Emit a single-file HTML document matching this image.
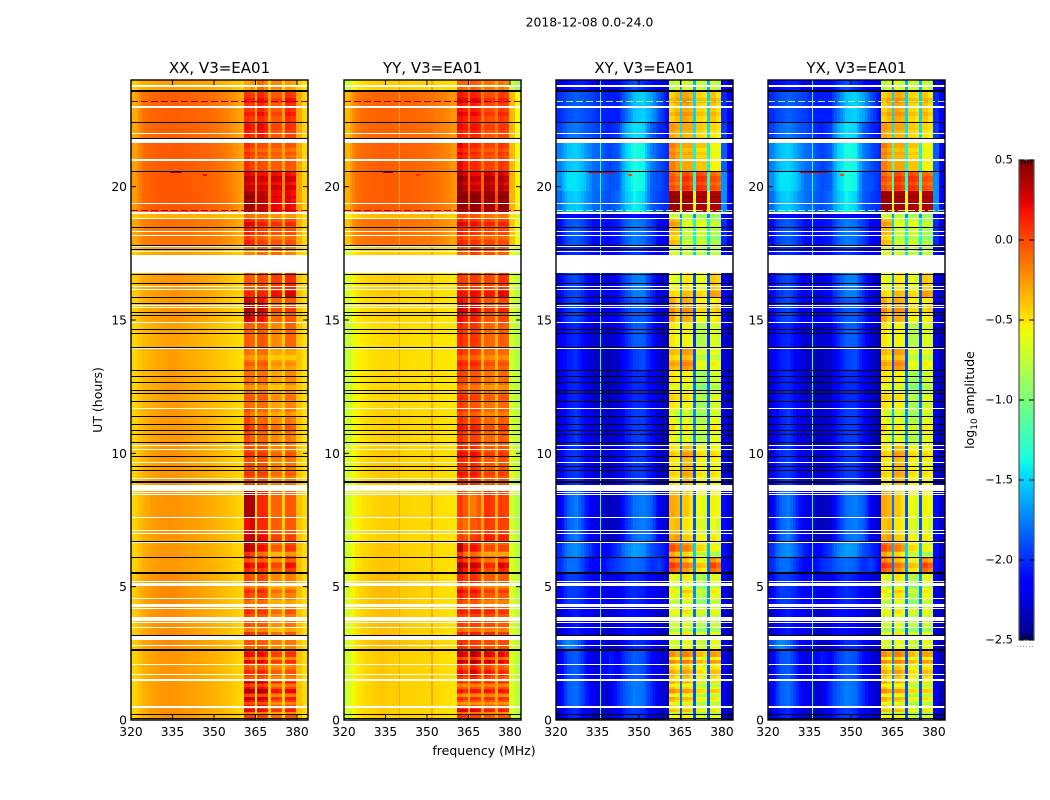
<!DOCTYPE html>
<html>
<head>
<meta charset="utf-8">
<title>2018-12-08 0.0-24.0</title>
<style>
html,body{margin:0;padding:0;background:#fff;width:1050px;height:800px;overflow:hidden}
svg{display:block}
text{font-family:"DejaVu Sans","Liberation Sans",sans-serif;fill:#000}
</style>
</head>
<body>
<svg id="chart" width="1050" height="800" viewBox="0 0 1050 800" xmlns="http://www.w3.org/2000/svg">
<text x="589.5" y="26.5" text-anchor="middle" font-size="12.4">2018-12-08 0.0-24.0</text>
<text x="484" y="755" text-anchor="middle" font-size="12.5">frequency (MHz)</text>
<text transform="translate(102,400) rotate(-90)" text-anchor="middle" font-size="12.5">UT (hours)</text>
<text transform="translate(974,400) rotate(-90)" text-anchor="middle" font-size="12.5">log<tspan dy="3" font-size="9">10</tspan><tspan dy="-3"> amplitude</tspan></text>
</svg>
<script>
// ---- axis tick labels ----
const freqTicks = [320,335,350,365,380];
const hourTicks = [0,5,10,15,20];
const colorTicks = [0.5,0,-0.5,-1,-1.5,-2,-2.5];
const colorTickLabels = ['0.5','0.0','\u22120.5','\u22121.0','\u22121.5','\u22122.0','\u22122.5'];
const panelTitles = ['XX, V3=EA01','YY, V3=EA01','XY, V3=EA01','YX, V3=EA01'];

// ---- heatmap bins (MHz, UT hours) ----
const freqEdges = [320,323,326,329,332,335,338,341,344,347,350,353,356,359,361,363,364.7,365.7,368,369.7,370.7,373,374.7,375.7,378,379.7,382,384];
const hourEdges = [0,.52,1.5,2.62,3,4.31,5.51,6.11,6.67,7.61,8.59,8.81,10.31,11.7,13.12,13.95,14.92,15.86,16.76,17.44,17.77,18.79,19.01,19.84,20.59,21.64,22.42,23.59,24];

// ---- log10 amplitude, one row per time bin (bottom to top) ----
const xxRows = [
[-.44,-.33,-.27,-.24,-.22,-.24,-.26,-.27,-.29,-.31,-.34,-.37,-.41,-.46,.05,.03,-.5,.03,0,-.42,-.1,-.12,-.42,-.02,-.03,-.38,-.47],
[-.44,-.34,-.29,-.26,-.24,-.25,-.27,-.28,-.3,-.32,-.35,-.38,-.42,-.46,.2,.15,-.5,.2,.15,-.42,-.02,-.05,-.42,.02,.03,-.38,-.47],
[-.44,-.34,-.29,-.26,-.24,-.25,-.27,-.28,-.3,-.32,-.35,-.38,-.42,-.46,.12,.08,-.5,.12,.06,-.42,-.05,-.08,-.42,-.02,0,-.38,-.47],
[-.42,-.3,-.26,-.23,-.2,-.22,-.25,-.26,-.28,-.3,-.33,-.36,-.4,-.45,-.02,-.05,-.5,-.05,-.08,-.42,-.18,-.2,-.42,-.15,-.15,-.38,-.47],
[-.42,-.31,-.26,-.23,-.21,-.22,-.25,-.27,-.29,-.31,-.34,-.37,-.41,-.46,0,-.05,-.5,-.05,-.05,-.42,-.22,-.25,-.42,-.12,-.15,-.38,-.47],
[-.42,-.3,-.25,-.22,-.2,-.21,-.24,-.26,-.28,-.31,-.34,-.37,-.41,-.46,.02,-.04,-.5,.03,-.03,-.42,-.2,-.22,-.42,-.15,-.18,-.38,-.47],
[-.44,-.33,-.28,-.26,-.25,-.26,-.28,-.29,-.31,-.33,-.36,-.39,-.42,-.46,.12,.05,-.5,.08,.03,-.42,-.1,-.12,-.42,.08,.05,-.38,-.47],
[-.44,-.33,-.28,-.25,-.24,-.25,-.27,-.28,-.3,-.32,-.35,-.38,-.42,-.46,.3,.2,-.5,.1,.05,-.42,-.15,-.15,-.42,-.02,-.05,-.38,-.47],
[-.44,-.33,-.28,-.25,-.23,-.24,-.26,-.27,-.29,-.31,-.34,-.37,-.41,-.46,.2,.25,-.5,.12,.1,-.42,-.05,-.08,-.42,-.05,-.05,-.38,-.47],
[-.44,-.33,-.27,-.25,-.23,-.24,-.26,-.27,-.29,-.31,-.34,-.37,-.41,-.46,.4,.38,-.5,.12,.1,-.42,-.08,-.08,-.42,-.05,-.05,-.38,-.47],
[-.44,-.33,-.28,-.26,-.25,-.25,-.27,-.28,-.3,-.32,-.35,-.38,-.42,-.46,.05,.05,-.5,.05,0,-.42,-.1,-.1,-.42,-.1,-.1,-.38,-.47],
[-.44,-.34,-.28,-.25,-.24,-.24,-.26,-.28,-.3,-.32,-.36,-.39,-.43,-.47,0,-.02,-.5,-.03,-.05,-.42,-.18,-.2,-.42,-.12,-.15,-.4,-.48],
[-.44,-.35,-.3,-.27,-.25,-.25,-.27,-.29,-.31,-.33,-.37,-.4,-.44,-.47,.02,-.08,-.5,-.1,-.08,-.42,-.2,-.25,-.42,-.12,-.18,-.4,-.48],
[-.45,-.36,-.32,-.29,-.26,-.26,-.29,-.31,-.33,-.35,-.38,-.41,-.44,-.47,-.1,-.12,-.5,-.12,-.12,-.42,-.28,-.3,-.42,-.18,-.2,-.4,-.48],
[-.45,-.37,-.33,-.3,-.27,-.27,-.3,-.32,-.34,-.36,-.39,-.42,-.45,-.48,-.12,-.15,-.5,-.12,-.1,-.45,-.3,-.3,-.42,-.28,-.3,-.4,-.48],
[-.45,-.37,-.33,-.3,-.28,-.28,-.3,-.32,-.34,-.36,-.39,-.42,-.45,-.48,-.05,-.08,-.5,-.03,-.08,-.42,-.2,-.22,-.42,-.08,-.1,-.4,-.48],
[-.43,-.33,-.29,-.27,-.25,-.24,-.26,-.28,-.3,-.32,-.35,-.39,-.42,-.46,.3,.22,-.5,.2,.12,-.42,-.1,-.1,-.42,-.05,-.05,-.38,-.47],
[-.42,-.31,-.28,-.26,-.25,-.23,-.25,-.27,-.28,-.3,-.33,-.37,-.41,-.45,-.02,-.05,-.5,0,-.03,-.42,.05,.03,-.42,.12,.1,-.38,-.47],
null,
[-.42,-.33,-.3,-.28,-.27,-.27,-.27,-.28,-.28,-.3,-.33,-.35,-.38,-.42,-.2,-.2,-.45,-.1,-.12,-.42,-.1,-.1,-.42,-.15,-.2,-.42,-.48],
[-.3,-.18,-.15,-.14,-.13,-.13,-.13,-.14,-.15,-.16,-.18,-.22,-.27,-.34,.15,.1,-.3,.05,0,-.28,-.02,-.05,-.28,0,-.02,-.32,-.46],
[-.42,-.36,-.34,-.33,-.32,-.32,-.32,-.33,-.33,-.34,-.35,-.37,-.39,-.42,-.1,-.12,-.42,-.15,-.15,-.42,-.25,-.25,-.42,-.25,-.25,-.4,-.47],
[-.26,-.1,-.07,-.05,-.04,-.04,-.04,-.05,-.06,-.08,-.1,-.14,-.2,-.28,.42,.4,-.2,.35,.3,-.22,.22,.2,-.22,.22,.18,-.28,-.44],
[-.26,-.1,-.07,-.05,-.04,-.04,-.05,-.06,-.07,-.08,-.11,-.15,-.21,-.28,.25,.2,-.25,.2,.18,-.2,.2,.18,-.2,.2,.15,-.28,-.44],
[-.28,-.12,-.08,-.06,-.06,-.05,-.06,-.07,-.08,-.09,-.12,-.16,-.22,-.3,.1,.03,-.3,0,-.03,-.28,-.05,-.05,-.28,-.03,-.05,-.3,-.45],
[-.3,-.14,-.1,-.08,-.07,-.07,-.08,-.08,-.1,-.11,-.14,-.18,-.24,-.32,.15,.1,-.28,.18,.1,-.28,-.03,-.05,-.28,.05,.02,-.3,-.45],
[-.32,-.14,-.1,-.08,-.07,-.07,-.08,-.08,-.1,-.11,-.14,-.18,-.24,-.32,.08,.05,-.3,.12,.02,-.28,-.05,-.05,-.28,.1,.05,-.3,-.45],
[-.42,-.33,-.3,-.28,-.27,-.27,-.27,-.28,-.28,-.3,-.33,-.35,-.38,-.42,-.3,-.25,-.45,-.1,-.2,-.45,-.2,-.2,-.45,-.25,-.3,-.42,-.48]
];

const yyRows = [
[-.7,-.52,-.46,-.43,-.41,-.42,-.43,-.44,-.44,-.45,-.46,-.46,-.48,-.5,.1,.05,-.3,.05,.03,-.28,-.02,-.05,-.3,-.02,-.05,-.65,-.8],
[-.7,-.52,-.46,-.43,-.41,-.42,-.43,-.44,-.44,-.45,-.46,-.46,-.48,-.5,-.02,-.08,-.3,-.02,-.05,-.28,-.02,-.05,-.3,-.02,-.05,-.65,-.8],
[-.7,-.52,-.46,-.42,-.4,-.42,-.43,-.44,-.44,-.45,-.46,-.46,-.48,-.5,.22,.12,-.28,.28,.15,-.28,.18,.1,-.3,.12,.05,-.65,-.8],
[-.68,-.48,-.42,-.38,-.36,-.37,-.39,-.41,-.42,-.43,-.44,-.45,-.47,-.5,.1,.05,-.3,.05,.02,-.3,0,-.02,-.3,0,0,-.65,-.8],
[-.68,-.49,-.43,-.39,-.37,-.38,-.4,-.42,-.43,-.44,-.45,-.46,-.48,-.5,.05,0,-.3,.03,.02,-.3,0,0,-.3,-.05,-.05,-.65,-.8],
[-.68,-.48,-.42,-.38,-.36,-.37,-.39,-.41,-.42,-.44,-.45,-.46,-.48,-.5,.15,.05,-.3,.1,.03,-.3,-.05,-.05,-.3,-.05,-.05,-.65,-.8],
[-.7,-.5,-.45,-.42,-.4,-.4,-.42,-.43,-.44,-.45,-.46,-.47,-.48,-.5,.3,.15,-.3,.2,.1,-.3,0,-.02,-.3,.15,.08,-.65,-.8],
[-.7,-.5,-.45,-.42,-.4,-.4,-.42,-.43,-.44,-.45,-.46,-.47,-.48,-.5,.28,.05,-.3,.1,.02,-.3,-.1,-.08,-.3,-.08,-.08,-.65,-.8],
[-.72,-.54,-.48,-.45,-.43,-.43,-.44,-.45,-.46,-.46,-.47,-.48,-.49,-.51,-.05,-.12,-.38,-.05,0,-.28,.05,.03,-.3,.03,.02,-.68,-.82],
[-.72,-.54,-.48,-.45,-.43,-.43,-.44,-.45,-.46,-.46,-.47,-.48,-.49,-.51,.05,-.05,-.3,-.15,-.05,-.3,.08,.05,-.3,.05,.02,-.68,-.82],
[-.72,-.54,-.48,-.45,-.43,-.43,-.44,-.45,-.46,-.46,-.47,-.48,-.49,-.51,.1,.05,-.3,.05,0,-.3,-.05,-.05,-.3,-.05,-.05,-.68,-.82],
[-.7,-.52,-.46,-.42,-.41,-.41,-.42,-.44,-.45,-.45,-.46,-.47,-.48,-.5,.12,.08,-.3,.1,.03,-.3,-.05,-.05,-.3,-.02,-.05,-.65,-.8],
[-.72,-.54,-.48,-.45,-.43,-.43,-.44,-.45,-.46,-.46,-.47,-.48,-.49,-.5,.1,.03,-.32,.05,0,-.32,-.1,-.1,-.32,-.05,-.08,-.68,-.8],
[-.74,-.55,-.5,-.47,-.45,-.45,-.46,-.47,-.47,-.48,-.48,-.49,-.5,-.52,.05,0,-.35,-.02,-.05,-.35,-.12,-.15,-.35,-.1,-.1,-.7,-.82],
[-.74,-.56,-.51,-.48,-.46,-.46,-.47,-.47,-.48,-.48,-.49,-.5,-.5,-.52,.08,.03,-.35,.05,0,-.35,-.08,-.1,-.35,-.08,-.1,-.7,-.82],
[-.74,-.56,-.51,-.48,-.46,-.46,-.47,-.47,-.48,-.48,-.49,-.5,-.5,-.52,.12,.05,-.33,.08,.02,-.33,-.08,-.1,-.33,-.05,-.08,-.7,-.82],
[-.7,-.52,-.47,-.45,-.43,-.43,-.44,-.45,-.46,-.46,-.47,-.48,-.49,-.51,.22,.15,-.3,.15,.08,-.3,-.02,-.03,-.3,.02,0,-.66,-.8],
[-.68,-.5,-.45,-.43,-.42,-.41,-.43,-.44,-.45,-.46,-.47,-.48,-.49,-.51,.05,.02,-.3,.06,.02,-.3,.03,0,-.3,.08,.05,-.66,-.8],
null,
[-.68,-.48,-.44,-.42,-.4,-.4,-.41,-.42,-.42,-.43,-.44,-.45,-.46,-.48,-.05,-.08,-.3,.05,0,-.3,-.02,-.03,-.3,-.05,-.08,-.6,-.8],
[-.4,-.18,-.14,-.13,-.12,-.12,-.13,-.13,-.14,-.15,-.17,-.2,-.24,-.3,.15,.08,-.2,.08,.03,-.2,.02,0,-.2,.02,0,-.4,-.62],
[-.55,-.42,-.38,-.36,-.35,-.35,-.35,-.36,-.36,-.37,-.38,-.4,-.42,-.45,-.02,-.05,-.3,-.02,-.05,-.3,-.12,-.12,-.3,-.12,-.15,-.5,-.7],
[-.32,-.12,-.08,-.07,-.06,-.06,-.06,-.07,-.08,-.09,-.11,-.14,-.18,-.24,.45,.45,-.02,.46,.44,-.02,.42,.42,-.02,.45,.42,-.34,-.55],
[-.32,-.12,-.08,-.07,-.06,-.06,-.06,-.07,-.08,-.09,-.11,-.14,-.18,-.24,.38,.25,-.1,.22,.2,-.1,.3,.22,-.1,.3,.2,-.34,-.55],
[-.34,-.14,-.1,-.08,-.07,-.07,-.08,-.08,-.09,-.1,-.12,-.15,-.19,-.26,.22,.15,-.15,.12,.08,-.15,.03,.02,-.15,.08,.03,-.36,-.58],
[-.36,-.16,-.11,-.09,-.08,-.08,-.09,-.09,-.1,-.11,-.13,-.16,-.2,-.26,.15,.1,-.15,.13,.1,-.15,-.02,-.03,-.15,.02,0,-.36,-.58],
[-.36,-.16,-.11,-.09,-.08,-.08,-.09,-.09,-.1,-.11,-.13,-.16,-.2,-.26,.18,.12,-.15,.14,.1,-.15,0,-.02,-.15,.05,.02,-.36,-.58],
[-.72,-.52,-.47,-.44,-.42,-.42,-.42,-.43,-.43,-.44,-.45,-.46,-.47,-.49,-.08,-.1,-.3,-.05,-.1,-.3,-.12,-.15,-.3,-.12,-.18,-.72,-.88]
];

const xyRows = [
[-2.3,-2.05,-2,-2.2,-2.3,-2.35,-2.3,-2.2,-2,-1.95,-2,-2.2,-2.3,-2.3,-.55,-.6,-1.9,-.55,-.6,-1.9,-.7,-.75,-1.9,-.65,-.7,-2.25,-2.35],
[-2.2,-1.85,-1.8,-2,-2.2,-2.3,-2.25,-2,-1.85,-1.75,-1.8,-2,-2.25,-2.3,-.4,-.5,-1.8,-.45,-.5,-1.9,-.65,-.7,-1.9,-.6,-.65,-2.2,-2.35],
[-2.2,-1.9,-1.85,-2.05,-2.25,-2.2,-2.05,-2.15,-1.95,-1.85,-1.9,-2.1,-2.25,-2.3,-.3,-.4,-1.7,-.25,-.35,-1.9,-.45,-.55,-1.9,-.35,-.4,-2.2,-2.35],
[-1.9,-1.7,-1.8,-2.05,-2.2,-2.25,-2.3,-2.3,-2.1,-2,-2,-2.1,-2.25,-2.3,-.65,-.7,-1.8,-.6,-.65,-1.9,-.7,-.75,-1.9,-.6,-.65,-2.25,-2.35],
[-2.3,-2.1,-2.05,-2.15,-2.2,-2.3,-2.3,-2.25,-2.1,-2.1,-2.15,-2.25,-2.3,-2.35,-.7,-.7,-1.8,-.6,-.7,-1.8,-.75,-.8,-1.8,-.7,-.75,-2.25,-2.35],
[-2.15,-1.95,-1.95,-2.05,-2.15,-2.2,-2.25,-2.2,-2.05,-2,-2.05,-2.15,-2.25,-2.3,-.6,-.7,-1.7,-.5,-.55,-1.7,-.8,-.85,-1.7,-.6,-.65,-2.2,-2.35],
[-2,-1.8,-1.8,-2,-2.15,-2.15,-2,-1.95,-1.85,-1.8,-1.85,-2,-1.95,-2.15,-.05,-.15,-1.8,-.25,-.35,-1.7,-.5,-.55,-1.8,-.1,-.2,-2.1,-2.3],
[-2,-1.75,-1.7,-1.85,-2.05,-2.15,-2.1,-1.95,-1.75,-1.65,-1.7,-1.9,-2,-2.1,-.1,-.2,-1.6,-.25,-.35,-1.5,-.55,-.6,-1.6,-.65,-.7,-2.1,-2.3],
[-2.2,-1.85,-1.75,-2,-2.2,-2.3,-2.35,-2.3,-2,-1.8,-1.75,-1.85,-2.2,-2.3,-.4,-.35,-1.8,-.5,-.55,-1.9,-.65,-.7,-1.9,-.6,-.7,-2.1,-2.3],
[-2.2,-1.85,-1.75,-2,-2.2,-2.3,-2.35,-2.3,-2,-1.8,-1.75,-1.85,-2.2,-2.3,-.3,-.35,-1.8,-.4,-.5,-1.9,-.6,-.65,-1.9,-.55,-.6,-2.1,-2.3],
[-2.2,-2,-2,-2.1,-2.2,-2.3,-2.3,-2.2,-2.1,-2,-2,-2.1,-2.2,-2.3,-.6,-.65,-1.9,-.6,-.65,-1.9,-.7,-.75,-1.9,-.65,-.7,-2.2,-2.3],
[-2.2,-2,-1.95,-2.1,-2.25,-2.3,-2.3,-2.2,-2.05,-1.95,-1.95,-2.1,-2.3,-2.35,-.5,-.55,-1.8,-.35,-.4,-1.9,-.55,-.6,-1.9,-.55,-.6,-2.25,-2.35],
[-2.25,-2.05,-1.95,-2.15,-2.25,-2.3,-2.3,-2.25,-2.05,-1.95,-1.95,-2.1,-2.3,-2.35,-.55,-.7,-1.6,-.6,-.7,-1.7,-.8,-.8,-1.8,-.6,-.65,-2.25,-2.35],
[-2.25,-2.05,-2,-2.15,-2.3,-2.35,-2.35,-2.3,-2.1,-2,-2,-2.15,-2.3,-2.35,-.5,-.55,-1.9,-.55,-.6,-1.8,-.85,-.9,-1.8,-.7,-.7,-2.25,-2.35],
[-2.2,-2.05,-2,-2.2,-2.3,-2.35,-2.35,-2.3,-2.1,-1.95,-1.9,-2.1,-2.3,-2.35,-.35,-.4,-1.9,-.25,-.3,-1.9,-.65,-.7,-1.9,-.6,-.65,-2.25,-2.35],
[-2.2,-2.05,-2,-2.15,-2.3,-2.3,-2.3,-2.25,-2,-1.85,-1.85,-2.05,-2.3,-2.35,-.5,-.6,-2,-.55,-.6,-2,-.8,-.8,-2,-.65,-.7,-2.25,-2.35],
[-2.15,-1.95,-1.9,-2.05,-2.2,-2.25,-2.2,-2.1,-1.95,-1.85,-1.85,-2,-2.25,-2.3,-.3,-.45,-1.8,-.3,-.35,-1.9,-.55,-.55,-1.9,-.55,-.5,-2.2,-2.3],
[-2.15,-1.95,-1.9,-2.05,-2.2,-2.25,-2.25,-2.1,-1.9,-1.75,-1.75,-2,-2.25,-2.3,-.6,-.65,-1.7,-.5,-.55,-1.9,-.6,-.65,-1.9,-.4,-.45,-2.2,-2.3],
null,
[-2.1,-2,-2,-2.05,-2.1,-2.15,-2.15,-2.1,-2,-1.95,-2,-2.1,-2.15,-2.2,-.65,-.7,-1.6,-.7,-.75,-1.5,-.75,-.8,-1.6,-.75,-.8,-2.1,-2.3],
[-2.1,-1.9,-1.85,-1.95,-2.1,-2.1,-2.1,-2.05,-1.85,-1.75,-1.8,-1.95,-2.15,-2.2,-.35,-.4,-1.5,-.7,-.7,-1.4,-.7,-.7,-1.4,-.8,-.85,-2,-2.25],
[-2.25,-2.1,-2.1,-2.2,-2.25,-2.3,-2.3,-2.25,-2.15,-2.1,-2.15,-2.2,-2.25,-2.3,-.7,-.75,-1.7,-.75,-.8,-1.7,-.85,-.85,-1.7,-.85,-.9,-2.1,-2.3],
[-1.8,-1.55,-1.5,-1.65,-1.8,-1.85,-1.9,-1.8,-1.55,-1.4,-1.5,-1.85,-1.95,-2,.42,.42,-.6,.4,.4,-.6,.38,.38,-.6,.38,.36,-1.7,-2.15],
[-1.7,-1.45,-1.45,-1.55,-1.8,-1.8,-1.9,-1.85,-1.5,-1.35,-1.4,-1.85,-1.9,-2,-.1,-.18,-1.2,0,-.08,-1.3,0,-.05,-1.3,-.1,-.15,-1.7,-2.15],
[-1.75,-1.55,-1.5,-1.65,-1.8,-1.85,-1.95,-1.85,-1.5,-1.35,-1.4,-1.75,-1.9,-2,-.15,-.25,-1.2,-.3,-.3,-1.4,-.4,-.4,-1.4,-.55,-.55,-1.85,-2.2],
[-1.95,-1.8,-1.75,-1.85,-1.9,-2,-2.05,-1.95,-1.6,-1.45,-1.5,-1.85,-2,-2.1,-.3,-.35,-1.45,-.35,-.35,-1.45,-.45,-.5,-1.45,-.5,-.55,-1.95,-2.2],
[-2,-1.9,-1.85,-1.9,-1.95,-2.05,-2.05,-2.05,-1.8,-1.55,-1.5,-1.65,-1.9,-2.1,-.45,-.35,-1.5,-.3,-.35,-1.5,-.45,-.5,-1.5,-.4,-.5,-2,-2.2],
[-2.25,-2.1,-2.05,-2.05,-2.15,-2.2,-2.2,-2.15,-2,-1.9,-2,-2.1,-2.2,-2.25,-.8,-.7,-1.6,-.65,-.75,-1.6,-.7,-.75,-1.6,-.7,-.8,-2.1,-2.35]
];
const yxRows = xyRows;

// ---- fine time structure in the band-pass blocks: start hour, end hour, change in log10 amplitude ----
const stripeStarts = [.22,.3,.56,.75,.86,1.01,1.24,1.39,1.54,1.87,2,2.14,2.25,2.36,3.19,3.3,3.97,4.35,4.76,4.95,5.7,5.92,6.15,6.34,6.7,9.15,9.82,10.8,11.4,12,12.37,13.28,13.5,15.3,15.86,18,18.52,19.57,19.87,20.17,21.07,21.3,22.12,22.65,23.14];
const stripeEnds = [.3,.41,.67,.86,.97,1.16,1.35,1.43,1.65,1.99,2.06,2.25,2.36,2.55,3.3,3.45,4.12,4.5,4.87,5.1,5.89,6.04,6.3,6.56,6.94,9.3,10.05,11.06,11.55,12.19,12.56,13.42,13.69,15.56,16.09,18.19,18.67,19.65,20.06,20.4,21.19,21.45,22.35,22.8,23.32];
const stripeDeltas = [-.2,.18,-.2,.12,-.18,.2,-.15,.15,-.15,-.12,-.2,.12,-.2,.1,.1,-.15,.12,-.12,.1,-.15,.12,-.15,-.2,.1,.1,.08,.1,.1,-.1,.08,-.12,.08,-.12,.1,.15,-.1,.12,.05,.1,.1,-.06,-.08,.06,.08,.1];
const blockChannels = [14,15,17,18,20,21,23,24];

// ---- per-panel details: narrow channels, dashed interference rows, compact sources ----
const xyLineFreq = 336;
const xyLineValue = -1.25;
const yyLineFreqs = [340,351.8];
const yyLineValues = [-.3,-.12];
const rfiHours = [23.21,19.14];
const rfiValues = [.42,.4,-.9,-.9];
const dartHours = [20.6,20.47];
const dartFreqStarts = [[334,334,331.6,331.6],[346,346,346,346]];
const dartFreqEnds = [[338.4,337.7,341.3,341.3],[347.5,347.5,347.5,347.5]];
const dartValues = [[.42,.42,.3,.3],[.2,.1,0,0]];

// ---- flagged times (UT hours) ----
const whiteGaps = [[23.74,23.81],[22.95,23.03],[21.98,22.01],[21.64,21.79],[20.96,21.04],[19.35,19.39],[18.98,19.05],[18.77,18.83],[18.3,18.34],[18.15,18.19],[17.74,17.78],[17.55,17.59],[16.75,17.45],[16.24,16.28],[16.13,16.16],[15.54,15.58],[15.45,15.49],[14.89,14.93],[13.92,13.97],[11.66,11.7],[10.27,10.31],[10.13,10.16],[9.64,9.68],[9.04,9.08],[8.59,8.82],[8.51,8.55],[8.42,8.46],[7.58,7.61],[7.11,7.14],[6.98,7.01],[6.62,6.66],[5.19,5.23],[5.03,5.14],[4.54,4.58],[4.24,4.35],[4.16,4.2],[3.71,3.86],[3.64,3.68],[3.45,3.49],[3,3.15],[2.78,2.81],[2.06,2.1],[1.71,1.74],[1.48,1.54],[.45,.51]];
const thinBlackLines = [22.44,21.84,20.59,18.47,17.81,17.67,16.74,16.38,15.85,15.63,15.3,15.18,14.65,14.5,13.98,13.11,12.89,12.66,12.36,12.25,11.95,11.39,11.09,10.86,10.71,10.41,9.89,9.51,9.36,8.95,8.91,6.7,6.1,3.18,.21,.06];
const thickBlackLines = [23.59,5.52,2.62];

// ---- drawing ----
const SVGNS = 'http://www.w3.org/2000/svg';
const chart = document.getElementById('chart');
const panelLefts = [131,344,556,768];
const panelRows = [xxRows,yyRows,xyRows,yxRows];
const PW = 177, TOP = 80, BOT = 720;
const freqMin = 320, freqMax = 384, hourMin = 0, hourMax = 24;
const vMin = -2.5, vMax = 0.5;
const SMOOTH_CHANNELS = 14, SLICES = 3;

function xScale(left, f){ return left + (f - freqMin) / (freqMax - freqMin) * PW; }
function yScale(h){ return BOT - (h - hourMin) / (hourMax - hourMin) * (BOT - TOP); }
function seg(t, pts){
  for (let i = 1; i < pts.length; i++) {
    if (t <= pts[i][0]) {
      const a = pts[i-1], b = pts[i];
      return a[1] + (b[1]-a[1]) * (t-a[0]) / (b[0]-a[0]);
    }
  }
  return pts[pts.length-1][1];
}
function jet(v){
  const t = Math.max(0, Math.min(1, (v - vMin) / (vMax - vMin)));
  const r = seg(t, [[0,0],[.35,0],[.66,1],[.89,1],[1,.5]]);
  const g = seg(t, [[0,0],[.125,0],[.375,1],[.64,1],[.91,0],[1,0]]);
  const b = seg(t, [[0,.5],[.11,1],[.34,1],[.65,0],[1,0]]);
  return 'rgb(' + Math.round(r*255) + ',' + Math.round(g*255) + ',' + Math.round(b*255) + ')';
}
function make(tag, attrs, parent){
  const el = document.createElementNS(SVGNS, tag);
  for (const k in attrs) el.setAttribute(k, attrs[k]);
  parent.appendChild(el);
  return el;
}

panelLefts.forEach(function(left, p){
  const g = make('g', {}, chart);
  
  

  const cp = make('clipPath', {id:'clip'+p}, g);
  make('rect', {x:left, y:TOP, width:PW, height:BOT-TOP}, cp);
  const plot = make('g', {'clip-path':'url(#clip'+p+')', 'shape-rendering':'crispEdges'}, g);

  const rows = panelRows[p];
  rows.forEach(function(row, ri){
    if (!row) return;
    const y1 = Math.round(yScale(hourEdges[ri]));
    const y0 = Math.round(yScale(hourEdges[ri+1]));
    row.forEach(function(val, ci){
      const x0 = xScale(left, freqEdges[ci]);
      const x1 = xScale(left, freqEdges[ci+1]);
      if (ci < SMOOTH_CHANNELS) {
        // shade smoothly toward the neighbouring channels of the continuum
        for (let s = 0; s < SLICES; s++) {
          const pos = (s + .5) / SLICES - .5;
          const other = pos < 0 ? row[Math.max(ci-1,0)] : row[Math.min(ci+1,SMOOTH_CHANNELS-1)];
          const shade = val + (other - val) * Math.abs(pos);
          const sx0 = Math.round(x0 + (x1-x0) * s / SLICES);
          const sx1 = Math.round(x0 + (x1-x0) * (s+1) / SLICES);
          const slice = make('rect', {x:sx0, y:y0, width:sx1-sx0, height:y1-y0, fill:jet(shade)}, plot);
          
          
        }
      } else {
        const cell = make('rect', {x:Math.round(x0), y:y0, width:Math.round(x1)-Math.round(x0), height:y1-y0, fill:jet(val)}, plot);
        
        
      }
    });
  });

  stripeStarts.forEach(function(start, si){
    const end = stripeEnds[si];
    const mid = (start + end) / 2;
    let ri = 0;
    while (ri < hourEdges.length - 2 && hourEdges[ri+1] <= mid) ri++;
    const row = rows[ri];
    if (!row) return;
    const y0 = Math.round(yScale(end));
    const y1 = Math.max(y0 + 1, Math.round(yScale(start)));
    blockChannels.forEach(function(ci){
      const x0 = Math.round(xScale(left, freqEdges[ci]));
      const x1 = Math.round(xScale(left, freqEdges[ci+1]));
      const st = make('rect', {x:x0, y:y0, width:x1-x0, height:y1-y0, fill:jet(row[ci] + stripeDeltas[si])}, plot);
      
      
    });
  });

  if (p >= 2) {
    const line = make('line', {x1:xScale(left,xyLineFreq), x2:xScale(left,xyLineFreq), y1:TOP, y2:BOT, stroke:jet(xyLineValue), 'stroke-width':1}, plot);
    
    
  }
  if (p === 1) {
    yyLineFreqs.forEach(function(f, i){
      const line = make('line', {x1:xScale(left,f), x2:xScale(left,f), y1:TOP, y2:BOT, stroke:jet(yyLineValues[i]), 'stroke-width':1}, plot);
      
      
    });
  }
  rfiHours.forEach(function(h){
    const line = make('line', {x1:left, x2:left+PW, y1:Math.round(yScale(h))+.5, y2:Math.round(yScale(h))+.5, stroke:jet(rfiValues[p]), 'stroke-width':1, 'stroke-dasharray':'7 3'}, plot);
    
    
  });
  dartHours.forEach(function(h, di){
    const x0 = xScale(left, dartFreqStarts[di][p]);
    const x1 = xScale(left, dartFreqEnds[di][p]);
    const dart = make('rect', {x:Math.round(x0), y:Math.round(yScale(h)), width:Math.round(x1-x0), height:2, fill:jet(dartValues[di][p])}, plot);
    
    
  });

  whiteGaps.forEach(function(gap){
    const y0 = Math.round(yScale(gap[1]));
    const y1 = Math.max(y0 + 1, Math.round(yScale(gap[0])));
    const r = make('rect', {x:left, y:y0, width:PW, height:y1-y0, fill:'#fff'}, plot);
    
    
  });
  thinBlackLines.forEach(function(h){
    const r = make('rect', {x:left, y:Math.round(yScale(h)), width:PW, height:1, fill:'#000'}, plot);
    
    
  });
  thickBlackLines.forEach(function(h){
    const r = make('rect', {x:left, y:Math.round(yScale(h))-1, width:PW, height:2, fill:'#000'}, plot);
    
    
  });

  const frame = make('rect', {x:left, y:TOP, width:PW, height:BOT-TOP, fill:'none', stroke:'#000', 'stroke-width':1.4}, g);
  
  

  const title = make('text', {x:left+PW/2, y:73, 'text-anchor':'middle', 'font-size':15}, g);
  title.textContent = panelTitles[p];
  
  

  freqTicks.forEach(function(f){
    const x = xScale(left, f);
    const tb = make('line', {x1:x, x2:x, y1:BOT, y2:BOT-5, stroke:'#000', 'stroke-width':1}, g);
    
    
    const tt = make('line', {x1:x, x2:x, y1:TOP, y2:TOP+5, stroke:'#000', 'stroke-width':1}, g);
    
    
    const lab = make('text', {x:x, y:736, 'text-anchor':'middle', 'font-size':12.3}, g);
    lab.textContent = f;
    
    
  });
  hourTicks.forEach(function(h){
    const y = yScale(h);
    const tl = make('line', {x1:left, x2:left+5, y1:y, y2:y, stroke:'#000', 'stroke-width':1}, g);
    
    
    const tr = make('line', {x1:left+PW, x2:left+PW-5, y1:y, y2:y, stroke:'#000', 'stroke-width':1}, g);
    
    
    const lab = make('text', {x:left-4, y:y+4.5, 'text-anchor':'end', 'font-size':12.3}, g);
    lab.textContent = h;
    
    
  });
});

// ---- colorbar ----
const cbX = 1019, cbW = 15, cbTop = 160, cbBot = 640;
function cbScale(v){ return cbBot - (v - vMin) / (vMax - vMin) * (cbBot - cbTop); }
const cb = make('g', {}, chart);


for (let py = cbTop; py < cbBot; py += 2) {
  const v = vMin + (cbBot - py - 1) / (cbBot - cbTop) * (vMax - vMin);
  const r = make('rect', {x:cbX, y:py, width:cbW, height:2, fill:jet(v), 'shape-rendering':'crispEdges'}, cb);
  
  
}
const cbFrame = make('rect', {x:cbX, y:cbTop, width:cbW, height:cbBot-cbTop, fill:'none', stroke:'#555', 'stroke-width':1.2}, cb);


colorTicks.forEach(function(v, i){
  const y = cbScale(v);
  const a = make('line', {x1:cbX, x2:cbX+5, y1:y, y2:y, stroke:'#000', 'stroke-width':1}, cb);
  
  
  const b = make('line', {x1:cbX+cbW, x2:cbX+cbW-5, y1:y, y2:y, stroke:'#000', 'stroke-width':1}, cb);
  
  
  const lab = make('text', {x:1013, y:y+3.5, 'text-anchor':'end', 'font-size':11.5}, cb);
  lab.textContent = colorTickLabels[i];
  
  
});
for (let x = cbX + 3; x < cbX + cbW; x += 3) {
  const t1 = make('line', {x1:x, x2:x, y1:cbTop, y2:cbTop+4, stroke:'#000', 'stroke-width':1}, cb);
  
  
  const t2 = make('line', {x1:x, x2:x, y1:cbBot, y2:cbBot-5, stroke:'#000', 'stroke-width':1}, cb);
  
  
}
const dots = make('line', {x1:1017, x2:1035, y1:646.5, y2:646.5, stroke:'#999', 'stroke-width':1, 'stroke-dasharray':'1 2'}, cb);


</script>
</body>
</html>
